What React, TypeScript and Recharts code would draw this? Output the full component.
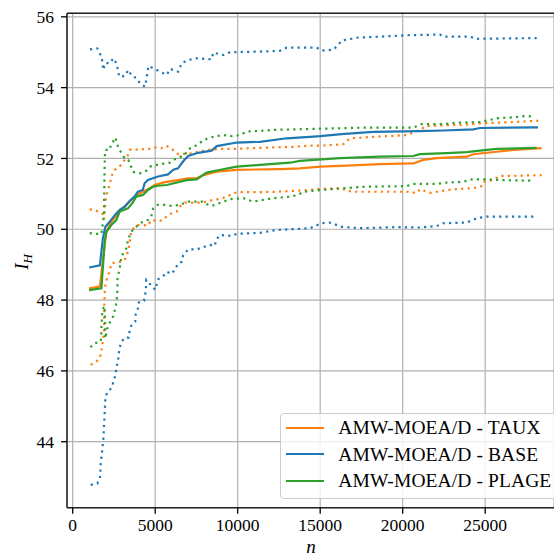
import React from "react";
import {
  LineChart,
  Line,
  XAxis,
  YAxis,
  CartesianGrid,
  ReferenceLine,
  Label,
} from "recharts";

const X_TICKS = [0, 5000, 10000, 15000, 20000, 25000];
const Y_TICKS = [44, 46, 48, 50, 52, 54, 56];
const X_DOMAIN = [-345, 29170];
const Y_DOMAIN = [42.136, 56.1];

// TAUX (orange)
const TAUX_N = [990, 1650, 1840, 2040, 2340, 2750, 3150, 3550, 3850, 4260, 4670, 4970, 5580, 6380, 6990, 7510, 7920, 8730, 9940, 12560, 13770, 14990, 16600, 18620, 20640, 21250, 22060, 23880, 24280, 25690, 26700, 28420];
const TAUX_V = [48.33, 48.38, 49.18, 49.93, 50.21, 50.45, 50.64, 50.83, 50.97, 51.06, 51.16, 51.25, 51.33, 51.39, 51.44, 51.44, 51.53, 51.63, 51.68, 51.7, 51.72, 51.77, 51.8, 51.84, 51.86, 51.96, 52.01, 52.05, 52.12, 52.19, 52.24, 52.29];
const TAUX_HI_N = [1030, 1330, 1640, 1840, 1900, 1950, 2000, 2100, 2240, 2340, 2550, 2850, 3050, 3250, 3350, 3450, 3650, 4060, 4360, 4670, 5070, 5370, 5670, 5970, 6200, 6400, 6910, 7310, 7610, 8120, 8930, 9940, 10740, 11960, 13370, 14380, 14990, 16400, 16800, 18620, 20240, 21050, 21450, 22660, 23670, 24680, 26700, 28420];
const TAUX_HI_V = [50.56, 50.55, 50.48, 50.42, 50.28, 50.59, 50.83, 51.06, 51.25, 51.49, 51.68, 51.77, 51.91, 52.01, 52.1, 52.24, 52.27, 52.24, 52.27, 52.27, 52.31, 52.29, 52.36, 52.28, 52.19, 52.12, 52.13, 52.15, 52.19, 52.24, 52.27, 52.27, 52.29, 52.31, 52.33, 52.36, 52.36, 52.4, 52.57, 52.62, 52.66, 52.81, 52.92, 52.94, 52.95, 52.99, 53.03, 53.07];
const TAUX_LO_N = [1090, 1430, 1640, 1730, 1780, 1840, 1900, 1905, 1910, 1915, 1920, 1935, 1945, 1980, 2100, 2240, 2340, 2750, 2950, 3150, 3350, 3450, 3550, 3760, 3960, 4260, 4560, 4760, 5170, 5470, 5780, 6080, 6300, 6480, 6810, 7710, 8120, 8520, 8930, 9330, 9730, 10140, 11350, 12360, 14380, 14990, 16200, 16910, 20240, 20850, 21050, 21650, 22060, 23060, 24280, 24790, 24890, 25490, 25900, 26700, 28420];
const TAUX_LO_V = [46.17, 46.26, 46.37, 46.53, 46.7, 46.87, 47.08, 47.3, 47.49, 47.68, 47.89, 48.12, 48.25, 48.43, 48.66, 48.8, 49.04, 49.08, 49.08, 49.13, 49.37, 49.6, 49.95, 50.07, 50.12, 50.12, 50.1, 50.26, 50.23, 50.26, 50.4, 50.47, 50.5, 50.64, 50.75, 50.75, 50.78, 50.83, 50.86, 50.92, 51.02, 51.05, 51.05, 51.06, 51.11, 51.14, 51.16, 51.06, 51.06, 51.02, 51.13, 51.03, 51.06, 51.13, 51.16, 51.22, 51.34, 51.39, 51.51, 51.51, 51.53];

// BASE (blue)
const BASE_N = [1000, 1650, 1700, 1830, 1980, 2240, 2550, 2850, 3150, 3450, 3750, 3950, 4250, 4360, 4560, 5170, 5780, 6100, 6380, 6700, 7000, 7600, 8420, 8730, 9940, 11350, 12970, 14380, 15000, 16300, 18200, 21000, 22460, 24280, 24680, 28200];
const BASE_V = [48.92, 48.98, 49.2, 49.75, 50.07, 50.21, 50.4, 50.55, 50.64, 50.8, 50.92, 51.06, 51.11, 51.3, 51.39, 51.49, 51.55, 51.68, 51.72, 51.92, 52.07, 52.16, 52.22, 52.35, 52.45, 52.47, 52.57, 52.61, 52.63, 52.69, 52.75, 52.77, 52.79, 52.82, 52.86, 52.88];
const BASE_HI_N = [1050, 1490, 1760, 1850, 1960, 2260, 2460, 2670, 2820, 3170, 3370, 3580, 3880, 4080, 4380, 4480, 4590, 5090, 5700, 5900, 6400, 6600, 7000, 7510, 8420, 8520, 9130, 9530, 11350, 12560, 12970, 14790, 15090, 15790, 16100, 16300, 17210, 18620, 20240, 22260, 22460, 24080, 24480, 28120];
const BASE_HI_V = [55.08, 55.11, 54.86, 54.5, 54.69, 54.69, 54.83, 54.67, 54.31, 54.33, 54.5, 54.33, 54.27, 54.12, 54.03, 54.27, 54.61, 54.5, 54.36, 54.53, 54.45, 54.69, 54.78, 54.83, 54.8, 54.99, 54.92, 55.0, 55.02, 55.04, 55.13, 55.13, 55.05, 55.07, 55.21, 55.33, 55.41, 55.44, 55.48, 55.5, 55.44, 55.44, 55.38, 55.4];
const BASE_LO_N = [1090, 1490, 1650, 1680, 1700, 1780, 1860, 1900, 1940, 1980, 2100, 2280, 2400, 2500, 2600, 2650, 2750, 2790, 2850, 2950, 3150, 3390, 3450, 3550, 3790, 3820, 3960, 4000, 4320, 4400, 4440, 4460, 5000, 5190, 5490, 5700, 6000, 6200, 6400, 6600, 6700, 7000, 7500, 7900, 8300, 8600, 8730, 8930, 9630, 9940, 11350, 12360, 14380, 15090, 15590, 16300, 17400, 19600, 21000, 22060, 22460, 23880, 24480, 25090, 28120];
const BASE_LO_V = [42.78, 42.82, 42.97, 43.2, 43.39, 43.72, 44.1, 44.47, 44.82, 45.23, 45.41, 45.48, 45.58, 45.74, 45.91, 46.1, 46.28, 46.48, 46.66, 46.81, 46.94, 46.94, 47.14, 47.28, 47.39, 47.6, 47.77, 47.93, 47.98, 48.17, 48.36, 48.57, 48.29, 48.59, 48.68, 48.8, 48.74, 48.87, 49.04, 49.08, 49.27, 49.43, 49.43, 49.49, 49.56, 49.53, 49.72, 49.84, 49.81, 49.87, 49.9, 49.98, 50.03, 50.17, 50.19, 50.07, 50.03, 50.06, 50.05, 50.09, 50.17, 50.19, 50.31, 50.36, 50.36];

// PLAGE (green)
const PLAGE_N = [990, 1740, 1840, 1940, 2040, 2340, 2640, 2850, 3350, 3650, 3850, 4260, 4560, 4870, 5170, 5700, 6910, 7510, 8120, 8730, 9940, 11350, 13170, 13770, 16200, 18620, 20640, 21050, 22660, 23880, 24680, 25690, 28120];
const PLAGE_V = [48.28, 48.33, 48.99, 49.65, 49.93, 50.12, 50.26, 50.5, 50.59, 50.76, 50.92, 50.97, 51.11, 51.2, 51.23, 51.25, 51.39, 51.41, 51.6, 51.66, 51.77, 51.82, 51.88, 51.93, 52.01, 52.05, 52.07, 52.12, 52.15, 52.18, 52.22, 52.27, 52.3];
const PLAGE_HI_N = [1030, 1430, 1740, 1890, 1910, 1930, 1950, 1980, 2240, 2340, 2440, 2590, 2710, 2850, 2950, 3150, 3370, 3670, 4080, 4480, 4690, 5290, 5900, 6200, 6790, 7010, 7610, 7920, 8420, 8830, 9330, 9630, 10140, 10540, 11350, 12360, 13370, 14990, 17640, 20640, 21150, 22460, 23270, 24080, 24680, 25800, 26700, 27510, 28020];
const PLAGE_HI_V = [49.89, 49.87, 49.87, 50.4, 51.0, 51.6, 52.1, 52.24, 52.24, 52.43, 52.47, 52.59, 52.38, 52.24, 52.15, 52.01, 51.96, 51.62, 51.58, 51.66, 51.77, 51.84, 51.88, 51.98, 52.1, 52.26, 52.4, 52.52, 52.6, 52.64, 52.66, 52.63, 52.66, 52.76, 52.78, 52.81, 52.82, 52.84, 52.87, 52.87, 52.97, 52.97, 53.01, 53.02, 53.03, 53.14, 53.16, 53.2, 53.18];
const PLAGE_LO_N = [1070, 1330, 1700, 1730, 1740, 1760, 1780, 1820, 1940, 1980, 2040, 2150, 2340, 2490, 2650, 2700, 2710, 2720, 2850, 2950, 3250, 3350, 3550, 4060, 4560, 4760, 4880, 5150, 5560, 6000, 6500, 7010, 7910, 8120, 8420, 8730, 9130, 9530, 10340, 10940, 12160, 13170, 13670, 13970, 14580, 15590, 17610, 20240, 20640, 22060, 22660, 23670, 24180, 25090, 25890, 27910];
const PLAGE_LO_V = [46.67, 46.78, 46.83, 47.01, 47.23, 47.37, 47.58, 47.74, 47.83, 46.92, 47.06, 47.3, 47.42, 47.58, 47.93, 48.12, 48.29, 48.62, 48.9, 49.23, 49.46, 49.7, 49.93, 50.17, 50.26, 50.36, 50.59, 50.69, 50.69, 50.66, 50.69, 50.78, 50.78, 50.71, 50.66, 50.71, 50.78, 50.85, 50.88, 50.78, 50.88, 50.92, 50.97, 51.06, 51.09, 51.13, 51.2, 51.22, 51.28, 51.28, 51.32, 51.34, 51.41, 51.41, 51.39, 51.37];

const zip = (n: number[], v: number[]) => n.map((x, i) => ({ n: x, v: v[i] }));

const SERIES = [
  { name: "AMW-MOEA/D - TAUX", color: "#ff7f0e", mean: zip(TAUX_N, TAUX_V), hi: zip(TAUX_HI_N, TAUX_HI_V), lo: zip(TAUX_LO_N, TAUX_LO_V) },
  { name: "AMW-MOEA/D - BASE", color: "#1f77b4", mean: zip(BASE_N, BASE_V), hi: zip(BASE_HI_N, BASE_HI_V), lo: zip(BASE_LO_N, BASE_LO_V) },
  { name: "AMW-MOEA/D - PLAGE", color: "#2ca02c", mean: zip(PLAGE_N, PLAGE_V), hi: zip(PLAGE_HI_N, PLAGE_HI_V), lo: zip(PLAGE_LO_N, PLAGE_LO_V) },
];

const FONT = "'Liberation Serif', 'Times New Roman', serif";
const tickStyle = { fill: "#000", fontSize: 17.5, fontFamily: FONT };

export default function App() {
  return (
    <div
      style={{
        position: "absolute",
        left: 0,
        top: 0,
        width: 554,
        height: 556,
        overflow: "hidden",
        background: "#fff",
      }}
    >
      <LineChart width={554} height={556} margin={{ top: 13.3, right: 0, bottom: 0, left: 0 }}>
        <CartesianGrid stroke="#b0b0b0" strokeWidth={1.2} />
        <XAxis
          type="number"
          dataKey="n"
          domain={X_DOMAIN}
          ticks={X_TICKS}
          interval={0}
          allowDataOverflow
          height={48.3}
          tickSize={6}
          tickMargin={5}
          tick={tickStyle}
          tickLine={{ stroke: "#000", strokeWidth: 1.3 }}
          axisLine={{ stroke: "#222", strokeWidth: 1.5 }}
        >
          <Label
            content={() => (
              <text x={311} y={553} textAnchor="middle" fontFamily={FONT} fontSize={19} fontStyle="italic" fill="#000">
                n
              </text>
            )}
          />
        </XAxis>
        <YAxis
          type="number"
          domain={Y_DOMAIN}
          ticks={Y_TICKS}
          interval={0}
          allowDataOverflow
          width={67}
          tickSize={6}
          tickMargin={7}
          tick={tickStyle}
          tickLine={{ stroke: "#000", strokeWidth: 1.3 }}
          axisLine={{ stroke: "#222", strokeWidth: 1.5 }}
        >
          <Label
            content={() => (
              <text
                x={28}
                y={262}
                transform="rotate(-90, 28, 262)"
                textAnchor="middle"
                fontFamily={FONT}
                fontSize={19}
                fontStyle="italic"
                fill="#000"
              >
                I
                <tspan dy={4} fontSize={13}>H</tspan>
              </text>
            )}
          />
        </YAxis>
        <ReferenceLine y={Y_DOMAIN[1]} stroke="#222" strokeWidth={1.5} />
        {SERIES.flatMap((s) => [
          <Line
            key={s.name + "-hi"}
            data={s.hi}
            dataKey="v"
            type="linear"
            stroke={s.color}
            strokeWidth={2.2}
            strokeDasharray="2.2 4.2"
            dot={false}
            activeDot={false}
            isAnimationActive={false}
            legendType="none"
          />,
          <Line
            key={s.name + "-lo"}
            data={s.lo}
            dataKey="v"
            type="linear"
            stroke={s.color}
            strokeWidth={2.2}
            strokeDasharray="2.2 4.2"
            dot={false}
            activeDot={false}
            isAnimationActive={false}
            legendType="none"
          />,
          <Line
            key={s.name}
            data={s.mean}
            dataKey="v"
            name={s.name}
            type="linear"
            stroke={s.color}
            strokeWidth={2.2}
            dot={false}
            activeDot={false}
            isAnimationActive={false}
          />,
        ])}
      </LineChart>
      <div
        style={{
          position: "absolute",
          left: 280,
          top: 413,
          width: 290,
          height: 86,
          boxSizing: "border-box",
          border: "1px solid #cccccc",
          borderRadius: 4,
          background: "rgba(255,255,255,0.8)",
        }}
      >
        {SERIES.map((s, i) => (
          <div key={s.name}>
            <div
              style={{
                position: "absolute",
                left: 5,
                top: 13.7 + i * 26.65 - 1.1,
                width: 38,
                height: 2.2,
                background: s.color,
              }}
            />
            <span
              style={{
                position: "absolute",
                left: 57.3,
                top: 13.7 + i * 26.65 - 9.75,
                fontFamily: FONT,
                fontSize: 19.5,
                lineHeight: "19.5px",
                letterSpacing: 0.1,
                whiteSpace: "nowrap",
                color: "#000",
              }}
            >
              {s.name}
            </span>
          </div>
        ))}
      </div>
    </div>
  );
}
